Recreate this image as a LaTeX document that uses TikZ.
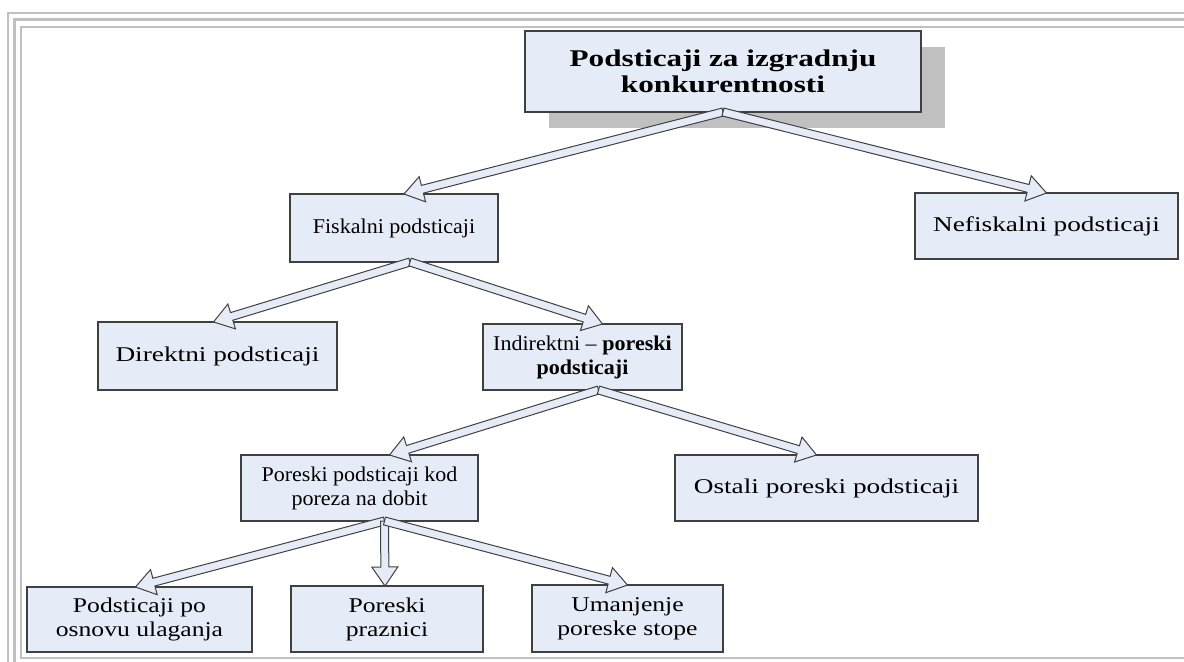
\documentclass[tikz,border=0pt]{standalone}
\usepackage{fontspec}
\setmainfont[FakeStretch=1.3]{Liberation Serif}
\newfontfamily\midfont[FakeStretch=1.22]{Liberation Serif}
\newfontfamily\narrowfont[FakeStretch=1.05]{Liberation Serif}
\usepackage{tikz}
\usetikzlibrary{calc}
\usetikzlibrary{positioning}
\usetikzlibrary{shadows}
\definecolor{boxfill}{RGB}{230, 236, 247}
\definecolor{edge}{RGB}{64, 64, 64}
\definecolor{framegray}{RGB}{192, 192, 192}
\tikzset{
  box/.style={draw=edge, fill=boxfill, line width=0.6pt, inner sep=0, outer sep=0,
    align=center, font=\fontsize{10.5}{12}\selectfont},
  narrowbox/.style={box, font=\fontsize{10.5}{12}\selectfont\narrowfont},
  midbox/.style={box, font=\fontsize{10.5}{12}\selectfont\midfont},
  rootbox/.style={box, font=\fontsize{12}{12.8}\selectfont\bfseries,
    drop shadow={shadow xshift=12pt, shadow yshift=-8pt, fill=framegray, opacity=1}},
  fat/.style={draw=edge, fill=boxfill, line width=0.5pt, line join=miter,
    to path={let \p1=(\tikztostart), \p2=(\tikztotarget),
      \n1={atan2(\y2-\y1,\x2-\x1)} in
      ($(\p1)+(\n1+90:2pt)$) -- ($(\p2)+(\n1:-9.5pt)+(\n1+90:2pt)$)
      -- ($(\p2)+(\n1:-9.5pt)+(\n1+90:6.5pt)$) -- (\p2)
      -- ($(\p2)+(\n1:-9.5pt)+(\n1-90:6.5pt)$) -- ($(\p2)+(\n1:-9.5pt)+(\n1-90:2pt)$)
      -- ($(\p1)+(\n1-90:2pt)$) -- cycle}},
  frame/.style={draw=framegray}
}

\begin{document}
\begin{tikzpicture}[x=0.5pt, y=-0.5pt]
  \useasboundingbox (0,0) rectangle (1184,662);

  % frame
  \draw[frame, line width=1pt] (8,662) -- (8,13) -- (1184,13);
  \draw[frame, line width=1.5pt] (14.5,662) -- (14.5,19.5) -- (1184,19.5);
  \draw[frame, line width=1pt] (1184,27) -- (21,27) -- (21,658) -- (1184,658);

  \node[rootbox, minimum width=198pt, minimum height=40.5pt] (root) at (723,71.5)
    {Podsticaji za izgradnju\\konkurentnosti};

  \node[narrowbox, minimum width=104pt, minimum height=34pt] (fisk) at (394,228) {Fiskalni podsticaji};
  \node[box, minimum width=131.5pt, minimum height=33pt] (nefisk) at (1046.5,226) {Nefiskalni podsticaji};

  \node[box, minimum width=119.5pt, minimum height=34pt] (direkt) at (217.5,356) {Direktni podsticaji};
  \node[narrowbox, minimum width=99.5pt, minimum height=33pt] (indir) at (582.5,357)
    {Indirektni – \textbf{poreski}\\\textbf{podsticaji}};

  \node[narrowbox, minimum width=118.5pt, minimum height=33pt] (porkod) at (359.5,488)
    {Poreski podsticaji kod\\poreza na dobit};
  \node[box, minimum width=151.5pt, minimum height=33pt] (ostali) at (826.5,488) {Ostali poreski podsticaji};

  \node[midbox, minimum width=112.5pt, minimum height=32.5pt] (ulag) at (139.5,619.5)
    {Podsticaji po\\osnovu ulaganja};
  \node[midbox, minimum width=96pt, minimum height=33pt] (praz) at (387,619) {Poreski\\praznici};
  \node[midbox, minimum width=95.5pt, minimum height=33.5pt] (stopa) at (627.5,618.5)
    {Umanjenje\\poreske stope};

  \draw[fat] (root.south) to ([xshift=5pt]fisk.north);
  \draw[fat] (root.south) to (nefisk.north);
  \draw[fat] ([xshift=8pt]fisk.south) to ([xshift=-2pt]direkt.north);
  \draw[fat] ([xshift=8pt]fisk.south) to ([xshift=10pt]indir.north);
  \draw[fat] ([xshift=8pt]indir.south) to ([xshift=15pt]porkod.north);
  \draw[fat] ([xshift=8pt]indir.south) to ([xshift=-5pt]ostali.north);
  \draw[fat] ([xshift=12.5pt]porkod.south) to ([xshift=-2pt]ulag.north);
  \draw[fat] ([xshift=12.5pt]porkod.south) to ([xshift=-1pt]praz.north);
  \draw[fat] ([xshift=12.5pt]porkod.south) to (stopa.north);
\end{tikzpicture}
\end{document}
